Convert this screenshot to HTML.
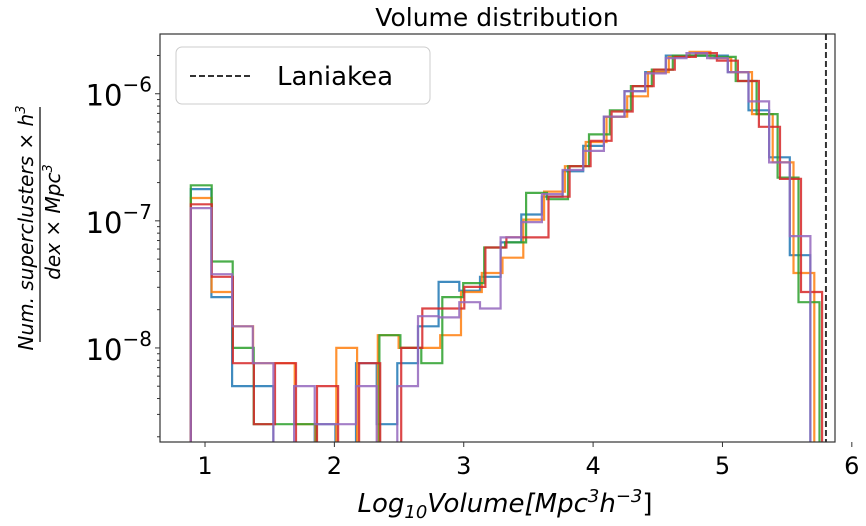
<!DOCTYPE html>
<html><head><meta charset="utf-8"><style>
html,body{margin:0;padding:0;background:#fff;}
svg{display:block;font-family:"DejaVu Sans","Liberation Sans",sans-serif;}
</style></head><body>
<svg id="chart" width="866" height="526" viewBox="0 0 866 526" xmlns="http://www.w3.org/2000/svg">
<defs><clipPath id="plotclip"><rect x="160" y="34" width="675" height="408"/></clipPath></defs>
<text x="497" y="26" font-size="25" text-anchor="middle" fill="#000">Volume distribution</text>
<g id="series" clip-path="url(#plotclip)"></g>
<g id="axes"></g>
<line id="lani" y1="34" y2="442" stroke="#333" stroke-width="2" stroke-dasharray="6,3"/>
<rect x="160" y="34" width="675" height="408" fill="none" stroke="#333" stroke-width="1.2"/>
<g>
<rect x="176" y="47" width="254" height="57" rx="6" fill="#fff" stroke="#ccc" stroke-width="1"/>
<line x1="190" y1="76" x2="250" y2="76" stroke="#333" stroke-width="2" stroke-dasharray="6,3"/>
<text x="277" y="85" font-size="26" fill="#000">Laniakea</text>
</g>
<text x="505" y="512" font-size="26" text-anchor="middle" font-style="italic" fill="#000">Log<tspan font-size="18" dy="6">10</tspan><tspan dy="-6">Volume[Mpc</tspan><tspan font-size="18" dy="-10">3</tspan><tspan dy="10">h</tspan><tspan font-size="18" dy="-10">−3</tspan><tspan dy="10" font-style="normal">]</tspan></text>
<g>
<text transform="translate(33,228) rotate(-90)" font-size="20" text-anchor="middle" font-style="italic" fill="#000">Num. superclusters × h<tspan font-size="13" dy="-8">3</tspan></text>
<line x1="40" y1="107" x2="40" y2="342" stroke="#000" stroke-width="1.2"/>
<text transform="translate(60,222) rotate(-90)" font-size="20" text-anchor="middle" font-style="italic" fill="#000">dex × Mpc<tspan font-size="13" dy="-8">3</tspan></text>
</g>
</svg>
<script>
// data: log10 of density per bin (null = empty bin)
const binStart = [0.89, 0.89, 0.89, 0.89, 0.89];
const binEnd = [5.68, 5.71, 5.75, 5.77, 5.68];
const seriesNames = ['blue','orange','green','red','purple'];
const blueLog10 = [-6.75,-7.60,-8.30,-8.30,null,null,-8.60,null,-8.12,-8.60,-8.12,-7.83,-7.48,-7.55,-7.44,-7.17,-6.95,-6.81,-6.61,-6.41,-6.18,-5.98,-5.83,-5.70,-5.70,-5.70,-5.83,-6.13,-6.50,-7.27];
const orangeLog10 = [-6.82,-7.56,-7.83,-8.12,-8.12,-8.60,null,-8.00,null,-7.90,-8.00,-8.00,-7.90,-7.56,-7.41,-7.29,-6.99,-6.77,-6.57,-6.38,-6.18,-6.02,-5.83,-5.71,-5.67,-5.72,-5.83,-6.16,-6.54,-7.41];
const greenLog10 = [-6.72,-7.32,-8.00,-8.60,-8.60,-8.60,null,null,null,-7.90,-8.00,-8.12,-7.60,-7.49,-7.21,-7.17,-6.78,-6.83,-6.57,-6.32,-6.13,-5.94,-5.81,-5.70,-5.70,-5.71,-5.90,-6.16,-6.66,-7.64];
const redLog10 = [-6.87,-7.44,-8.12,-8.60,-8.12,null,-8.30,null,-8.12,null,-8.00,-7.69,-7.69,-7.52,-7.21,-7.13,-7.13,-6.81,-6.57,-6.37,-6.14,-5.94,-5.81,-5.71,-5.68,-5.74,-5.90,-6.26,-6.67,-7.56];
const purpleLog10 = [-6.90,-7.42,-7.83,-8.12,null,-8.30,-8.60,-8.60,-8.30,null,-8.30,-7.75,-7.76,-7.64,-7.69,-7.13,-7.01,-6.79,-6.60,-6.45,-6.18,-5.98,-5.84,-5.72,-5.68,-5.72,-5.83,-6.06,-6.54,-7.12];
const laniakeaX = 5.80;
const xTicks = [1,2,3,4,5,6];
const xTickLabels = ['1','2','3','4','5','6'];
const yMajorExp = [-6,-7,-8];

const colors = ['#1f77b4','#ff7f0e','#2ca02c','#d62728','#9467bd'];
const allSeries = [blueLog10, orangeLog10, greenLog10, redLog10, purpleLog10];
const X0=160, X1=835, Y0=34, Y1=442;
const xMin=0.652, xMax=5.87, yMinLog=-8.74, yMaxLog=-5.53;
function xs(v){return X0+(v-xMin)/(xMax-xMin)*(X1-X0);}
function ys(l){return Y1-(l-yMinLog)/(yMaxLog-yMinLog)*(Y1-Y0);}
const NS='http://www.w3.org/2000/svg';
const sg=document.getElementById('series');
allSeries.forEach((vals,si)=>{
  const n=vals.length, w=(binEnd[si]-binStart[si])/n;
  const low=Y1+20;
  let d='M'+xs(binStart[si]).toFixed(1)+','+low;
  for(let k=0;k<n;k++){
    const yv=vals[k]===null?low:ys(vals[k]);
    d+=' L'+xs(binStart[si]+k*w).toFixed(1)+','+yv.toFixed(1)+' L'+xs(binStart[si]+(k+1)*w).toFixed(1)+','+yv.toFixed(1);
  }
  d+=' L'+xs(binEnd[si]).toFixed(1)+','+low;
  const p=document.createElementNS(NS,'path');
  
  
  p.setAttribute('d',d);p.setAttribute('fill','none');p.setAttribute('stroke',colors[si]);
  p.setAttribute('stroke-width','2.2');p.setAttribute('stroke-opacity','0.85');
  sg.appendChild(p);
});
const lani=document.getElementById('lani');
lani.setAttribute('x1',xs(laniakeaX));lani.setAttribute('x2',xs(laniakeaX));
const ax=document.getElementById('axes');
function mk(tag,attrs){const e=document.createElementNS(NS,tag);for(const k in attrs)e.setAttribute(k,attrs[k]);ax.appendChild(e);return e;}
xTicks.forEach((t,i)=>{
  const x=xs(t);
  const l=mk('line',{x1:x,x2:x,y1:Y1,y2:Y1+5,stroke:'#333','stroke-width':1});
  
  
  const tx=mk('text',{x:x,y:Y1+32,'font-size':24,'text-anchor':'middle',fill:'#000'});
  
  
  tx.textContent=xTickLabels[i];
});
for(let e=-9;e<=-5;e++){
  for(let m=1;m<10;m++){
    const l10=e+Math.log10(m);
    if(l10<yMinLog||l10>yMaxLog)continue;
    const y=ys(l10);
    const tk=mk('line',{x1:X0-(m===1?5:3),x2:X0,y1:y,y2:y,stroke:'#333','stroke-width':1});
    
    
  }
}
yMajorExp.forEach(e=>{
  const y=ys(e);
  const t=mk('text',{x:152,y:y+12,'font-size':29,'text-anchor':'end',fill:'#000'});
  
  
  t.innerHTML='10<tspan font-size="20" dy="-14">−'+(-e)+'</tspan>';
});
</script>
</body></html>
